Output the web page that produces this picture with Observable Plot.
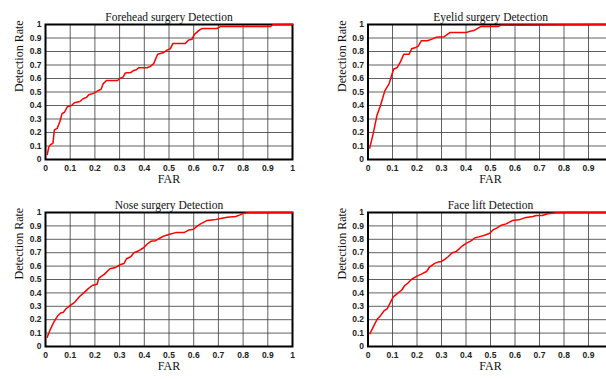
<!DOCTYPE html>
<html>
<head>
<meta charset="utf-8">
<script src="https://cdn.jsdelivr.net/npm/d3@7"></script>
<script src="https://cdn.jsdelivr.net/npm/@observablehq/plot@0.6"></script>
<style>
  html, body { margin: 0; padding: 0; background: #fff; }
  #root { position: relative; width: 606px; height: 379px; overflow: hidden; background: #fff; }
  .panel { position: absolute; }
</style>
</head>
<body>
<div id="root"></div>
<script>
const ticks = [0, 0.1, 0.2, 0.3, 0.4, 0.5, 0.6, 0.7, 0.8, 0.9, 1];
const ticksCut = [0, 0.1, 0.2, 0.3, 0.4, 0.5, 0.6, 0.7, 0.8, 0.9];
const xLabel = "FAR";
const yLabel = "Detection Rate";

const foreheadTitle = "Forehead surgery Detection";
const foreheadFar = [0.007,0.013,0.02,0.03,0.036,0.047,0.058,0.067,0.077,0.088,0.105,0.117,0.139,0.152,0.166,0.175,0.195,0.213,0.225,0.233,0.247,0.292,0.30,0.314,0.323,0.346,0.357,0.368,0.377,0.411,0.425,0.438,0.454,0.476,0.492,0.505,0.516,0.566,0.58,0.593,0.602,0.624,0.633,0.694,0.708,0.91,0.92,1];
const foreheadRate = [0.037,0.09,0.11,0.12,0.22,0.23,0.28,0.34,0.35,0.39,0.40,0.42,0.43,0.45,0.46,0.48,0.49,0.51,0.52,0.56,0.585,0.585,0.60,0.61,0.64,0.645,0.66,0.665,0.68,0.68,0.69,0.71,0.78,0.79,0.81,0.82,0.86,0.86,0.885,0.89,0.925,0.96,0.97,0.97,0.985,0.985,0.998,1];

const eyelidTitle = "Eyelid surgery Detection";
const eyelidFar = [0.007,0.021,0.037,0.051,0.069,0.086,0.096,0.105,0.119,0.133,0.146,0.168,0.178,0.195,0.205,0.218,0.242,0.259,0.277,0.311,0.334,0.40,0.416,0.432,0.446,0.46,0.532,0.541,0.96,1];
const eyelidRate = [0.085,0.19,0.33,0.40,0.51,0.56,0.62,0.67,0.68,0.725,0.78,0.78,0.82,0.83,0.84,0.88,0.88,0.89,0.905,0.91,0.94,0.94,0.95,0.955,0.97,0.985,0.985,0.995,1,1];

const noseTitle = "Nose surgery Detection";
const noseFar = [0.007,0.02,0.036,0.05,0.061,0.072,0.082,0.099,0.118,0.139,0.155,0.172,0.189,0.209,0.216,0.239,0.261,0.284,0.301,0.318,0.328,0.345,0.358,0.378,0.396,0.412,0.426,0.446,0.464,0.48,0.507,0.527,0.561,0.581,0.599,0.615,0.628,0.653,0.682,0.709,0.736,0.77,0.788,0.804,0.824,1];
const noseRate = [0.07,0.13,0.19,0.23,0.25,0.255,0.28,0.305,0.33,0.375,0.40,0.43,0.455,0.465,0.51,0.54,0.58,0.59,0.61,0.62,0.655,0.67,0.70,0.715,0.735,0.765,0.785,0.79,0.81,0.825,0.84,0.85,0.85,0.87,0.875,0.90,0.915,0.94,0.945,0.955,0.965,0.97,0.982,0.995,0.998,1];

const faceTitle = "Face lift Detection";
const faceFar = [0.008,0.021,0.038,0.051,0.065,0.078,0.089,0.103,0.123,0.137,0.15,0.164,0.177,0.2,0.218,0.239,0.252,0.272,0.286,0.3,0.313,0.327,0.344,0.361,0.381,0.401,0.422,0.435,0.456,0.476,0.497,0.51,0.527,0.544,0.564,0.589,0.616,0.639,0.673,0.687,0.711,0.734,0.768,0.796,1];
const faceRate = [0.095,0.145,0.205,0.23,0.265,0.28,0.32,0.37,0.40,0.42,0.455,0.475,0.50,0.525,0.54,0.56,0.595,0.62,0.63,0.635,0.65,0.67,0.70,0.71,0.745,0.77,0.79,0.81,0.82,0.83,0.845,0.87,0.885,0.905,0.915,0.94,0.945,0.96,0.97,0.978,0.978,0.99,0.998,1,1];

const serif = "'Liberation Serif', 'Times New Roman', serif";
const sans = "'Liberation Sans', Arial, sans-serif";
const fmt = d => String(d);

function panel(title, far, rate, xTickLabels, box) {
  const data = far.map((f, i) => ({far: f, rate: rate[i]}));
  const plot = Plot.plot({
    width: box.width,
    height: box.height,
    marginLeft: box.ml,
    marginRight: box.mr,
    marginTop: box.mt,
    marginBottom: box.mb,
    style: {fontFamily: sans, fontSize: "8.5px", color: "#222", background: "transparent"},
    x: {domain: [0, 1], ticks: ticks, label: null},
    y: {domain: [0, 1], ticks: ticks, label: null},
    marks: [
      Plot.gridX(ticks, {stroke: "#3a3a3a", strokeOpacity: 0.8, strokeWidth: 1}),
      Plot.gridY(ticks, {stroke: "#3a3a3a", strokeOpacity: 0.8, strokeWidth: 1}),
      Plot.axisX(xTickLabels, {tickSize: 0, tickPadding: 5, tickFormat: fmt, fontWeight: "bold", fill: "#222"}),
      Plot.axisY(ticks, {tickSize: 0, tickPadding: 4, tickFormat: fmt, fontWeight: "bold", fill: "#222"}),
      Plot.frame({stroke: "black", strokeWidth: 2}),
      Plot.line(data, {x: "far", y: "rate", stroke: "red", strokeWidth: 1.5}),
      Plot.text([title], {frameAnchor: "top", dy: -12, fontFamily: serif, fontSize: 11.5, fill: "#111"}),
      Plot.text([xLabel], {frameAnchor: "bottom", dy: 23, fontFamily: serif, fontSize: 12, fill: "#111"}),
      Plot.text([yLabel], {frameAnchor: "left", dx: -26, rotate: -90, fontFamily: serif, fontSize: 12, fill: "#111"})
    ]
  });
  plot.classList.add("panel");
  plot.style.left = box.left + "px";
  plot.style.top = box.top + "px";
  plot.style.overflow = "visible";
  document.getElementById("root").appendChild(plot);
}

panel(foreheadTitle, foreheadFar, foreheadRate, ticks, {left: 0, top: 0, width: 303, height: 190, ml: 45, mr: 11, mt: 24, mb: 31});
panel(eyelidTitle, eyelidFar, eyelidRate, ticksCut, {left: 303, top: 0, width: 320, height: 190, ml: 64.5, mr: 10.5, mt: 24, mb: 31});
panel(noseTitle, noseFar, noseRate, ticks, {left: 0, top: 190, width: 303, height: 189, ml: 45, mr: 11, mt: 22, mb: 33});
panel(faceTitle, faceFar, faceRate, ticksCut, {left: 303, top: 190, width: 320, height: 189, ml: 64.5, mr: 10.5, mt: 22, mb: 33});
</script>
</body>
</html>
